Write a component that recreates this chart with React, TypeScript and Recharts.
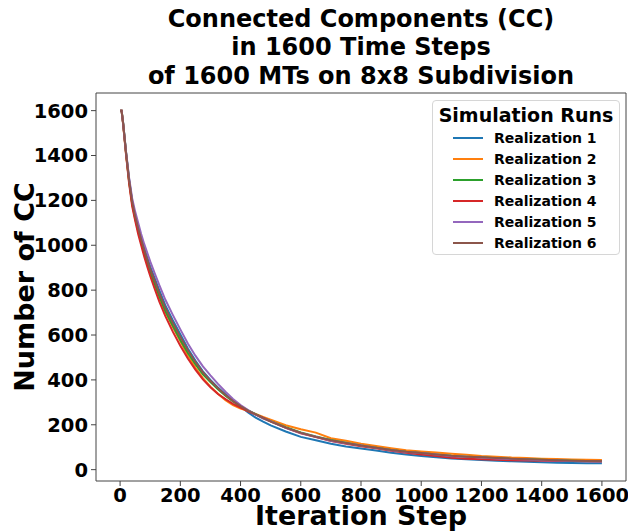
import React from 'react';
import { LineChart, Line, XAxis, YAxis, Legend, Label } from 'recharts';

const steps = [0, 5, 10, 20, 30, 40, 50, 60, 70, 80, 90, 100, 115, 130, 150, 175, 200, 225, 250, 275, 300, 325, 350, 375, 400, 425, 450, 475, 500, 550, 600, 650, 700, 750, 800, 850, 900, 950, 1000, 1050, 1100, 1150, 1200, 1250, 1300, 1350, 1400, 1450, 1500, 1550, 1600];

const realization1 = [1600, 1600, 1548, 1412, 1292, 1198, 1135, 1082, 1033, 988, 946, 905, 853, 800, 733, 666, 603, 540, 486, 438, 400, 366, 336, 308, 282, 255, 232, 214, 197, 170, 146, 131, 115, 103, 94, 85, 75, 68, 61, 55, 50, 46, 43, 40, 37, 35, 33, 31, 30, 29, 28];
const realization2 = [1600, 1600, 1543, 1405, 1282, 1185, 1118, 1062, 1010, 962, 918, 876, 822, 768, 703, 636, 572, 508, 455, 408, 370, 338, 310, 288, 272, 262, 248, 235, 223, 198, 180, 165, 140, 129, 116, 105, 95, 86, 81, 76, 71, 66, 61, 58, 54, 52, 49, 47, 45, 44, 43];
const realization3 = [1600, 1600, 1544, 1408, 1285, 1188, 1122, 1066, 1016, 968, 925, 882, 828, 774, 708, 641, 578, 520, 470, 425, 390, 358, 330, 304, 282, 264, 247, 231, 216, 189, 166, 148, 132, 120, 108, 98, 88, 80, 74, 68, 62, 58, 55, 51, 48, 46, 44, 42, 40, 38, 37];
const realization4 = [1600, 1600, 1540, 1400, 1275, 1175, 1110, 1050, 1000, 950, 905, 863, 806, 750, 685, 615, 552, 495, 446, 402, 367, 337, 314, 293, 276, 260, 245, 232, 215, 186, 162, 145, 128, 115, 104, 95, 84, 75, 68, 61, 53, 49, 46, 44, 42, 41, 40, 39, 38, 37, 36];
const realization5 = [1600, 1600, 1545, 1415, 1300, 1210, 1150, 1100, 1050, 1006, 967, 928, 875, 823, 758, 690, 625, 562, 508, 460, 420, 382, 347, 315, 288, 265, 245, 228, 215, 186, 163, 147, 129, 118, 108, 97, 86, 79, 74, 67, 60, 57, 54, 50, 47, 45, 42, 41, 39, 37, 36];
const realization6 = [1600, 1600, 1546, 1410, 1290, 1195, 1130, 1076, 1026, 980, 936, 895, 842, 788, 722, 655, 592, 532, 480, 434, 396, 363, 333, 306, 283, 263, 246, 230, 214, 187, 164, 146, 131, 119, 108, 98, 88, 80, 74, 68, 62, 58, 55, 52, 49, 46, 44, 42, 40, 39, 38];

const seriesNames = ['Realization 1', 'Realization 2', 'Realization 3', 'Realization 4', 'Realization 5', 'Realization 6'];
const seriesValues = [realization1, realization2, realization3, realization4, realization5, realization6];
const seriesKeys = ['r1', 'r2', 'r3', 'r4', 'r5', 'r6'];
const seriesColors = ['#1f77b4', '#ff7f0e', '#2ca02c', '#d62728', '#9467bd', '#8c564b'];

const xTicks = [0, 200, 400, 600, 800, 1000, 1200, 1400, 1600];
const yTicks = [0, 200, 400, 600, 800, 1000, 1200, 1400, 1600];
const xDomain = [-80, 1680];
const yDomain = [-50.6, 1678.6];

const titleLines = ['Connected Components (CC)', 'in 1600 Time Steps', 'of 1600 MTs on 8x8 Subdivision'];
const xLabel = 'Iteration Step';
const yLabel = 'Number of CC';
const legendTitle = 'Simulation Runs';

const rows = steps.map((s, i) => {
  const row: any = { step: s };
  seriesKeys.forEach((k, j) => {
    row[k] = seriesValues[j][i];
  });
  return row;
});

const FONT = '"DejaVu Sans", sans-serif';

const XLabelContent = (props: any) => {
  const vb = props.viewBox || {};
  const cx = vb.x + vb.width / 2;
  return (
    <text x={cx} y={525} textAnchor="middle" fontFamily={FONT} fontWeight="bold" fontSize={27} fill="#000">
      {xLabel}
    </text>
  );
};

const YLabelContent = (props: any) => {
  const vb = props.viewBox || {};
  const cy = vb.y + vb.height / 2;
  const cx = 34;
  return (
    <text x={cx} y={cy} textAnchor="middle" transform={`rotate(-90, ${cx}, ${cy})`} fontFamily={FONT} fontWeight="bold" fontSize={27} fill="#000">
      {yLabel}
    </text>
  );
};

const LegendContent = (props: any) => {
  const payload = (props.payload || []).slice().sort((a: any, b: any) => seriesNames.indexOf(a.value) - seriesNames.indexOf(b.value));
  return (
    <div
      style={{
        position: 'relative',
        width: 188,
        height: 155,
        boxSizing: 'border-box',
        border: '1px solid #d6d6d6',
        borderRadius: 4,
        background: 'rgba(255,255,255,0.8)',
        fontFamily: FONT,
        fontWeight: 'bold',
        color: '#000',
      }}
    >
      <div style={{ position: 'absolute', left: 0, width: 186, top: 2, lineHeight: '24px', fontSize: 19, textAlign: 'center', whiteSpace: 'nowrap' }}>
        {legendTitle}
      </div>
      {payload.map((p: any, i: number) => (
        <div key={p.value} style={{ position: 'absolute', left: 0, top: 37.3 + i * 21 - 10, height: 20, width: 186 }}>
          <div style={{ position: 'absolute', left: 20, top: 9, width: 30, height: 2, background: p.color }} />
          <div style={{ position: 'absolute', left: 61, top: 0, lineHeight: '20px', fontSize: 14, whiteSpace: 'nowrap' }}>{p.value}</div>
        </div>
      ))}
    </div>
  );
};

const tickStyle = { fontFamily: FONT, fontWeight: 'bold', fontSize: 19.5, fill: '#000' } as any;

export default function App() {
  return (
    <div style={{ position: 'absolute', left: 0, top: 0, width: 628, height: 531, background: '#fff', overflow: 'hidden' }}>
      <LineChart width={628} height={531} data={rows} margin={{ top: 92, right: 1, left: 0, bottom: 0 }}>
        <XAxis
          xAxisId="bottom"
          dataKey="step"
          type="number"
          domain={xDomain}
          ticks={xTicks}
          height={50}
          tick={tickStyle}
          tickSize={5}
          tickMargin={2}
          stroke="#444"
          tickLine={{ stroke: '#444' }}
          axisLine={{ stroke: '#444' }}
          interval={0}
        >
          <Label content={XLabelContent} />
        </XAxis>
        <XAxis
          xAxisId="top"
          orientation="top"
          dataKey="step"
          type="number"
          domain={xDomain}
          height={1}
          tick={false}
          tickLine={false}
          stroke="#444"
          axisLine={{ stroke: '#444' }}
        />
        <YAxis
          yAxisId="left"
          type="number"
          domain={yDomain}
          ticks={yTicks}
          width={96}
          tick={tickStyle}
          tickSize={5}
          tickMargin={3}
          stroke="#444"
          tickLine={{ stroke: '#444' }}
          axisLine={{ stroke: '#444' }}
          interval={0}
        >
          <Label content={YLabelContent} />
        </YAxis>
        <YAxis
          yAxisId="right"
          orientation="right"
          type="number"
          domain={yDomain}
          width={1}
          tick={false}
          tickLine={false}
          stroke="#444"
          axisLine={{ stroke: '#444' }}
        />
        <Legend
          layout="vertical"
          align="center"
          verticalAlign="middle"
          content={LegendContent}
          wrapperStyle={{ top: 100, left: 432, width: 188, height: 155 }}
        />
        {seriesKeys.map((k, j) => (
          <Line
            key={k}
            xAxisId="bottom"
            yAxisId="left"
            type="linear"
            dataKey={k}
            name={seriesNames[j]}
            stroke={seriesColors[j]}
            strokeWidth={2}
            dot={false}
            activeDot={false}
            isAnimationActive={false}
          />
        ))}
      </LineChart>
      <svg width={628} height={92} style={{ position: 'absolute', left: 0, top: 0, pointerEvents: 'none' }}>
        {titleLines.map((t, i) => (
          <text key={i} x={361} y={27 + i * 28.3} textAnchor="middle" fontFamily={FONT} fontWeight="bold" fontSize={24} fill="#000">
            {t}
          </text>
        ))}
      </svg>
    </div>
  );
}
